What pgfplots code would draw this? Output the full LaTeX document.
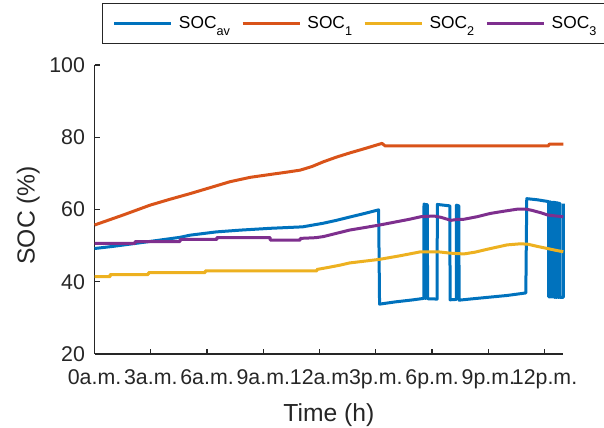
\documentclass[border=0pt]{standalone}
\usepackage{fontspec}
\setmainfont{Liberation Sans}
\usepackage{pgfplots}
\pgfplotsset{compat=1.18}
\definecolor{cblue}{rgb}{0,0.447,0.741}
\definecolor{corange}{rgb}{0.85,0.325,0.098}
\definecolor{cyellow}{rgb}{0.929,0.694,0.125}
\definecolor{cpurple}{rgb}{0.494,0.184,0.556}
\definecolor{axgray}{rgb}{0.15,0.15,0.15}
\newcommand\sub[1]{\raisebox{-5pt}{\fontsize{9.5}{11}\selectfont #1}}
\begin{document}
\begin{tikzpicture}
\useasboundingbox (-70.9pt,-55.5pt) rectangle (382.1pt,265.5pt);
\begin{axis}[
  at={(0pt,0pt)}, anchor=south west,
  scale only axis, width=351.6pt, height=216.75pt,
  xmin=0, xmax=25, ymin=20, ymax=100,
  axis x line*=bottom, axis y line*=left,
  axis line style={color=axgray, line width=1pt},
  xtick={0,3,...,24},
  xticklabels={0a.m.,3a.m.,6a.m.,9a.m.,12a.m,3p.m.,6p.m.,9p.m.,12p.m.},
  ytick={20,40,...,100},
  tick align=inside, major tick length=3.75pt,
  tick style={color=axgray, line width=1pt},
  ticklabel style={font=\fontsize{16}{19}\selectfont, text=axgray},
  /pgf/number format/assume math mode=true,
  xticklabel style={yshift=-8pt},
  yticklabel style={xshift=-3.7pt},
  xlabel={Time (h)}, ylabel={SOC (\%)},
  label style={font=\fontsize{18.5}{22}\selectfont, text=axgray},
  xlabel style={at={(axis description cs:0.5,-0.234)}, anchor=base},
  ylabel style={at={(axis description cs:-0.128,0.48)}, anchor=base},
  clip=false,
  legend columns=4,
  legend style={at={(axis description cs:0.016,1.073)}, anchor=south west,
    draw=axgray, line width=0.6pt, font=\fontsize{13}{15}\selectfont, text=black,
    inner xsep=7.5pt, inner ysep=9.8pt,
    nodes={inner sep=0pt},
    column sep=0pt,
    /tikz/every odd column/.append style={column sep=4.5pt},
    /tikz/every even column/.append style={column sep=8.25pt}},
  legend image code/.code={\draw[#1, line width=2.4pt] (0pt,0pt) -- (43pt,0pt);},
  every axis plot/.append style={line width=2.25pt, line join=round},
]
\addplot[cblue] coordinates {
(0,49.2) (1,49.8) (2.16,50.6) (3.3,51.4) (4.56,52.3) (5.1,52.9) (6.5,53.8)
(7.8,54.3) (9.4,54.8) (11.1,55.2) (12.2,56.2) (12.9,57.0) (13.6,57.9)
(14.4,58.9) (15.15,59.9) (15.2,33.8) (16.0,34.4) (17.0,35.0) (17.56,35.4)
(17.57,61.5) (17.62,61.4) (17.63,35.4) (17.68,35.4) (17.69,61.4) (17.75,61.3)
(17.76,35.3) (18.27,35.2) (18.28,61.4) (18.95,61.0) (18.96,35.0) (19.29,35.1)
(19.30,61.2) (19.43,61.0) (19.44,34.9) (20.0,35.2) (21.0,35.7) (22.0,36.2)
(23.0,36.9) (23.05,63.0) (23.6,62.7) (24.2,62.2) (24.22,62.2) (24.22,35.8)
(24.27,35.8) (24.27,62.1) (24.32,62.1) (24.32,35.8) (24.37,35.8) (24.37,62.0)
(24.42,62.0) (24.42,35.8) (24.47,35.8) (24.47,62.0) (24.52,62.0) (24.52,35.7)
(24.57,35.7) (24.57,61.9) (24.62,61.9) (24.62,35.7) (24.67,35.7) (24.67,61.8)
(24.72,61.8) (24.72,35.7) (24.77,35.7) (24.77,61.7) (24.82,61.7) (24.82,35.7)
(25.0,35.7) (25.0,61.6)
};
\addlegendentry{SOC\sub{av}}
\addplot[corange] coordinates {
(0,55.7) (1.54,58.5) (2.96,61.2) (4.0,62.8) (5.1,64.4) (6.2,66.1) (7.23,67.7)
(8.3,68.9) (9.37,69.7) (10.2,70.3) (10.97,70.9) (11.6,71.9) (12.2,73.2)
(12.9,74.5) (13.64,75.7) (14.5,77.0) (15.33,78.3) (15.5,77.6) (24.2,77.6)
(24.25,78.1) (25.0,78.1)
};
\addlegendentry{SOC\sub{1}}
\addplot[cyellow] coordinates {
(0,41.4) (0.83,41.4) (0.83,42.0) (2.87,42.0) (2.87,42.5) (5.9,42.5) (5.9,43.0)
(11.86,43.0) (11.86,43.4) (12.5,44.0) (13.1,44.6) (13.6,45.2) (14.4,45.7)
(15.2,46.2) (16.3,47.2) (17.4,48.3) (18.3,48.3) (19.0,47.9) (19.7,47.7)
(20.3,48.2) (20.95,49.0) (22.0,50.2) (22.7,50.5) (23.1,50.4) (23.6,49.8)
(24.15,49.2) (24.6,48.7) (25.0,48.3)
};
\addlegendentry{SOC\sub{2}}
\addplot[cpurple] coordinates {
(0,50.6) (2.16,50.6) (2.16,51.1) (4.56,51.1) (4.56,51.7) (6.52,51.7) (6.52,52.2)
(9.37,52.2) (9.37,51.5) (10.97,51.5) (10.97,52.0) (11.8,52.2) (12.2,52.5)
(12.9,53.4) (13.6,54.3) (14.4,55.0) (15.2,55.7) (16.0,56.5) (16.8,57.3)
(17.4,58.0) (18.1,58.2) (18.5,57.8) (19.0,57.0) (19.4,57.3) (19.7,57.3)
(20.4,58.0) (21.1,58.9) (21.8,59.5) (22.55,60.1) (23.0,60.1) (23.3,59.8)
(23.8,59.1) (24.15,58.5) (24.6,58.2) (25.0,58.0)
};
\addlegendentry{SOC\sub{3}}
\end{axis}
\end{tikzpicture}
\end{document}
